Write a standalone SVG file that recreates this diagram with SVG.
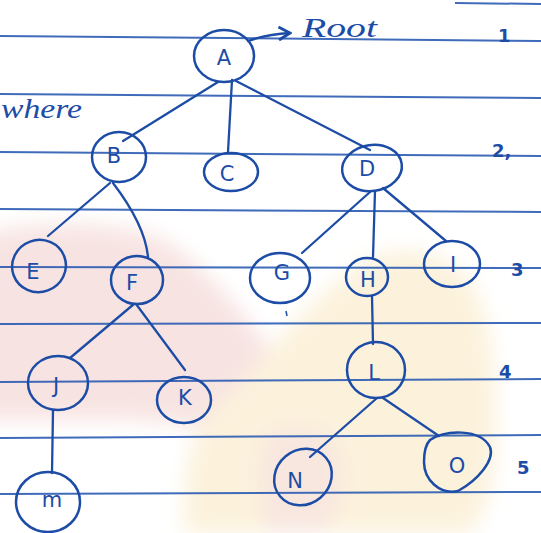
<svg xmlns="http://www.w3.org/2000/svg" width="541" height="533" viewBox="0 0 541 533">
<defs>
<style>
.rule{stroke:#2a5bb2;stroke-width:2;fill:none;opacity:0.9}
.edge{stroke:#1d4ca6;stroke-width:2.3;fill:none;stroke-linecap:round}
.node ellipse,.node path{stroke:#1d4ca6;stroke-width:2.5;fill:none}
.node text{font-family:"DejaVu Sans","Liberation Sans",sans-serif;font-size:21px;fill:#1d4ca6;text-anchor:middle;dominant-baseline:central}
.hand{font-family:"Liberation Serif",serif;font-style:italic;fill:#1d4ca6}
.num{font-family:"DejaVu Sans",sans-serif;font-size:18px;fill:#1d4ca6;font-weight:bold}
</style>
<filter id="soft" x="-20%" y="-20%" width="140%" height="140%"><feGaussianBlur stdDeviation="10"/></filter>
<marker id="arr" viewBox="0 0 10 10" refX="9" refY="5" markerWidth="7" markerHeight="7" orient="auto"><path d="M2,1 L9,5 L2,9" fill="none" stroke="#1d4ca6" stroke-width="1.8"/></marker>
</defs>
<rect width="541" height="533" fill="#ffffff"/>
<g id="background" filter="url(#soft)">
<path d="M-20,235 C30,222 110,218 165,240 C210,270 250,320 285,370 C300,400 300,440 290,470 L255,470 C240,440 200,420 120,420 L-20,420 Z" fill="#f7e4e2"/>
<path d="M185,533 C182,470 188,425 235,390 C270,350 310,300 360,265 C400,240 440,250 470,280 C495,320 498,400 495,460 C490,500 480,520 470,533 Z" fill="#fcf2dc"/>
<path d="M262,440 C280,420 320,420 340,450 C350,480 340,520 320,533 L268,533 C258,500 255,470 262,440 Z" fill="#f6e4e0" opacity="0.8"/>
</g>
<g id="rules">
<path class="rule" d="M455,3 L541,4"/>
<path class="rule" d="M0,36 L541,41"/>
<path class="rule" d="M0,94 L541,98"/>
<path class="rule" d="M0,152 L541,156"/>
<path class="rule" d="M0,209 L541,212"/>
<path class="rule" d="M0,267 L541,268"/>
<path class="rule" d="M0,324 L541,323"/>
<path class="rule" d="M0,382 L541,379"/>
<path class="rule" d="M0,438 L541,435"/>
<path class="rule" d="M0,494 L541,492"/>
</g>
<g id="annotations">
<text class="hand" x="1" y="118" font-size="28" textLength="81" lengthAdjust="spacingAndGlyphs">where</text>
<text class="hand" x="302" y="37" font-size="27" textLength="75" lengthAdjust="spacingAndGlyphs">Root</text>
<text class="num" x="498" y="42">1</text>
<text class="num" x="492" y="157">2,</text>
<text class="num" x="511" y="276">3</text>
<text class="num" x="499" y="378">4</text>
<text class="num" x="517" y="474" font-weight="normal">5</text>
<path d="M286,311 L287,316" stroke="#1d4ca6" stroke-width="1.5"/>
</g>
<g id="connectors">
<path class="edge" d="M248,41 Q268,34 290,33" marker-end="url(#arr)"/>
<path class="edge" d="M218,82 L123,141"/>
<path class="edge" d="M232,80 L228,152"/>
<path class="edge" d="M236,81 L370,150"/>
<path class="edge" d="M110,183 L48,236"/>
<path class="edge" d="M113,183 Q145,225 148,257"/>
<path class="edge" d="M370,192 L302,253"/>
<path class="edge" d="M375,191 L373,257"/>
<path class="edge" d="M383,188 L446,241"/>
<path class="edge" d="M134,304 L70,358"/>
<path class="edge" d="M136,304 L185,370"/>
<path class="edge" d="M53,410 L52,473"/>
<path class="edge" d="M372,296 L373,344"/>
<path class="edge" d="M377,398 L310,457"/>
<path class="edge" d="M383,398 L439,436"/>
</g>
<g id="node-A" class="node"><ellipse cx="224" cy="56" rx="30" ry="26"/><text x="224" y="58">A</text></g>
<g id="node-B" class="node"><ellipse cx="119" cy="157" rx="27" ry="25"/><text x="114" y="156">B</text></g>
<g id="node-C" class="node"><ellipse cx="231" cy="172" rx="27" ry="19"/><text x="227" y="174">C</text></g>
<g id="node-D" class="node"><ellipse cx="372" cy="168" rx="30" ry="23" transform="rotate(-8 372 168)"/><text x="367" y="169">D</text></g>
<g id="node-E" class="node"><ellipse cx="39" cy="266" rx="27" ry="26" transform="rotate(-20 39 266)"/><text x="33" y="272">E</text></g>
<g id="node-F" class="node"><ellipse cx="137" cy="280" rx="26" ry="24"/><text x="132" y="283">F</text></g>
<g id="node-G" class="node"><ellipse cx="280" cy="278" rx="30" ry="25"/><text x="282" y="273">G</text></g>
<g id="node-H" class="node"><ellipse cx="367" cy="277" rx="21" ry="19"/><text x="368" y="280">H</text></g>
<g id="node-I" class="node"><ellipse cx="452" cy="264" rx="28" ry="23"/><text x="453" y="265">I</text></g>
<g id="node-J" class="node"><ellipse cx="58" cy="383" rx="30" ry="27"/><text x="56" y="386">J</text></g>
<g id="node-K" class="node"><ellipse cx="184" cy="400" rx="27" ry="23"/><text x="185" y="398">K</text></g>
<g id="node-L" class="node"><ellipse cx="376" cy="370" rx="29" ry="28"/><text x="374" y="373">L</text></g>
<g id="node-M" class="node"><ellipse cx="48" cy="502" rx="32" ry="30"/><text x="52" y="500">m</text></g>
<g id="node-N" class="node"><ellipse cx="303" cy="477" rx="30" ry="27" transform="rotate(-40 303 477)"/><text x="295" y="481">N</text></g>
<g id="node-O" class="node"><path d="M430,440 C445,430 480,428 490,447 C495,460 478,480 458,491 C440,495 424,480 424,462 C424,450 426,444 430,440 Z"/><text x="457" y="466">O</text></g>
</svg>
